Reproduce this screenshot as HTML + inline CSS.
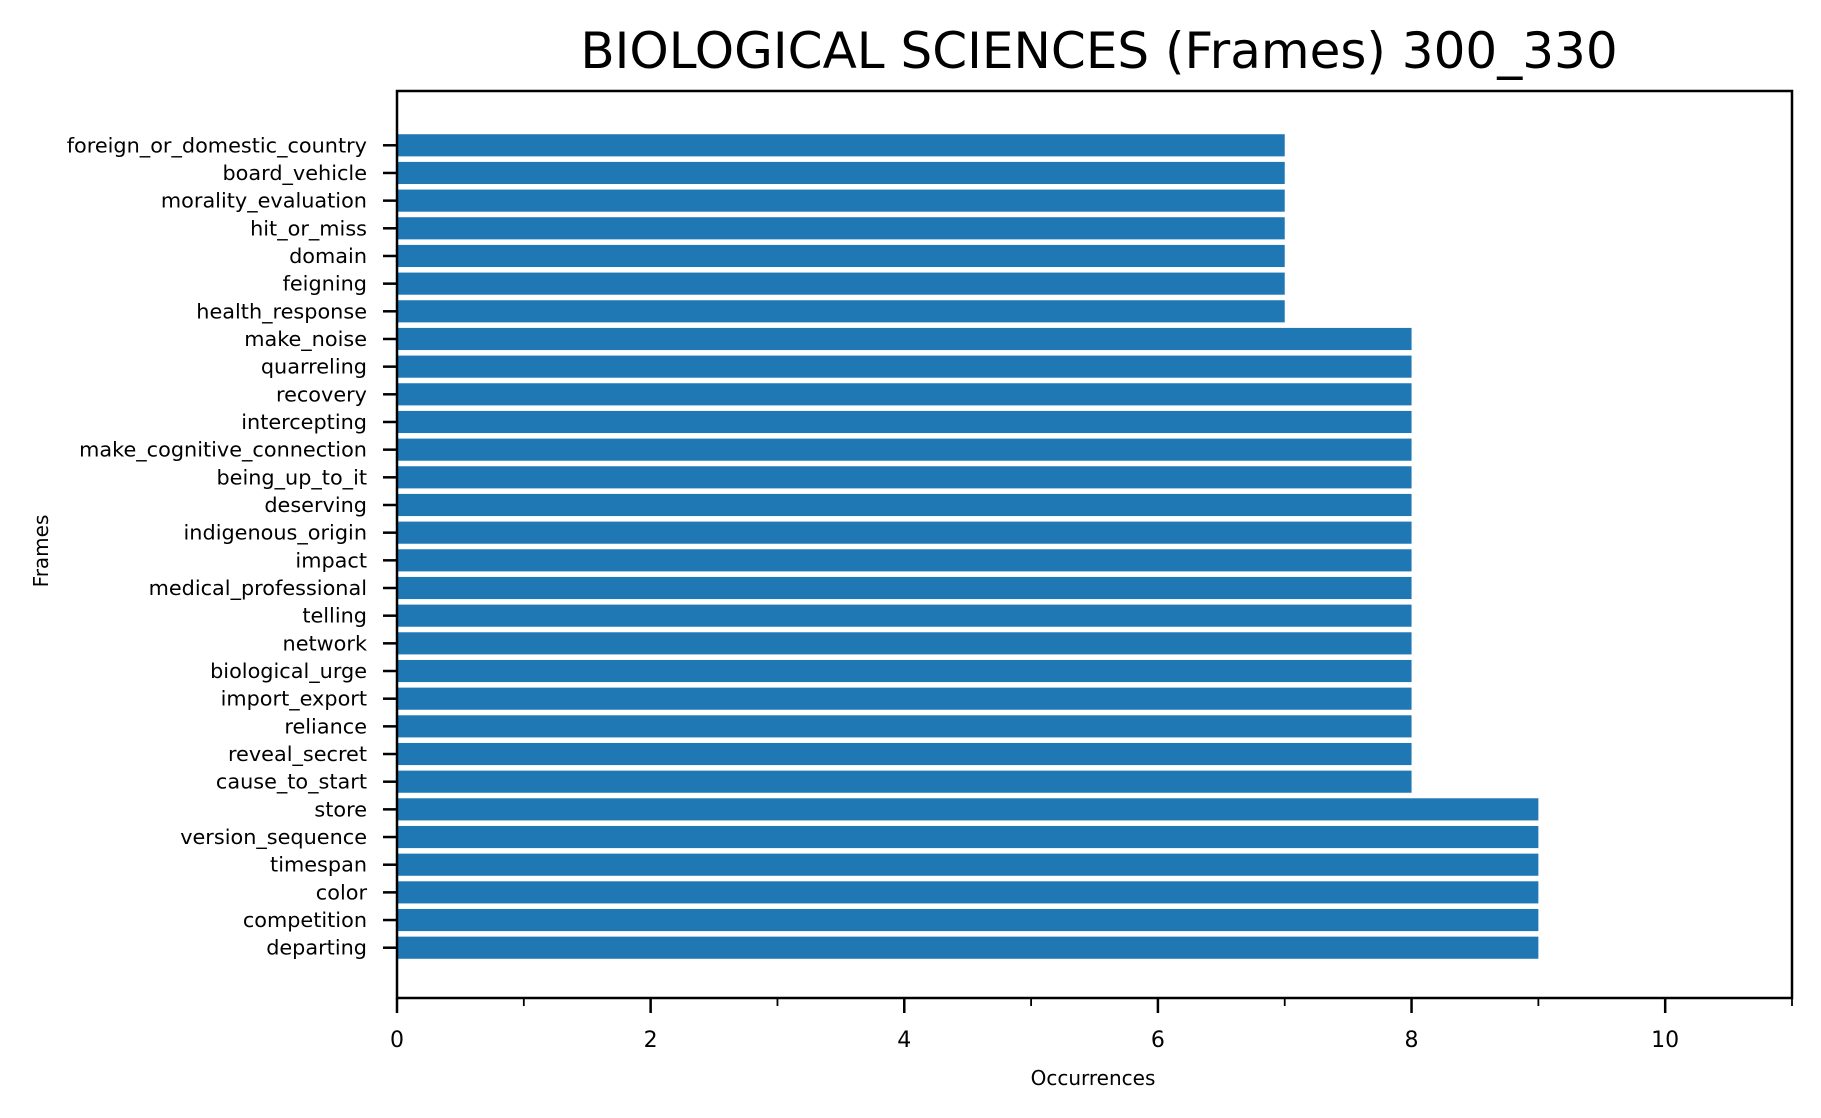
<!DOCTYPE html>
<html><head><meta charset="utf-8"><style>
html,body{margin:0;padding:0;background:#fff;}
svg{display:block;font-family:"DejaVu Sans","Liberation Sans",sans-serif;}
</style></head><body>
<svg id="chart" width="1821" height="1118" viewBox="0 0 1821 1118" xmlns="http://www.w3.org/2000/svg">
<rect width="1821" height="1118" fill="#fff"/>
<text x="1099" y="68" font-size="50" text-anchor="middle">BIOLOGICAL SCIENCES (Frames) 300_330</text>
<g id="bars"></g>
<g id="yticks"></g>
<g id="xticks"></g>
<rect x="397" y="91" width="1395" height="907" fill="none" stroke="#000" stroke-width="2.5"/>
<text x="1093" y="1085" font-size="20" text-anchor="middle">Occurrences</text>
<text transform="translate(48,551) rotate(-90)" font-size="20" text-anchor="middle">Frames</text>
</svg>
<script>
const categories = ["departing","competition","color","timespan","version_sequence","store","cause_to_start","reveal_secret","reliance","import_export","biological_urge","network","telling","medical_professional","impact","indigenous_origin","deserving","being_up_to_it","make_cognitive_connection","intercepting","recovery","quarreling","make_noise","health_response","feigning","domain","hit_or_miss","morality_evaluation","board_vehicle","foreign_or_domestic_country"];
const values = [9,9,9,9,9,9,8,8,8,8,8,8,8,8,8,8,8,8,8,8,8,8,8,7,7,7,7,7,7,7];
const xTicks = [0,2,4,6,8,10];
const xMinor = [1,3,5,7,9,11];

const NS = "http://www.w3.org/2000/svg";
const L = 397, R = 1792, T = 91, B = 998;
const xMin = 0, xMax = 11;
const n = categories.length;
const yLo = -0.4 - 0.05*(n-1+0.8), yHi = n-1+0.4 + 0.05*(n-1+0.8);
function xs(v){ return L + (v - xMin)/(xMax - xMin)*(R - L); }
function ys(v){ return B - (v - yLo)/(yHi - yLo)*(B - T) + 2; }
function mk(tag, attrs, parent){ const e = document.createElementNS(NS, tag); for (const k in attrs) e.setAttribute(k, attrs[k]); parent.appendChild(e); return e; }

const gb = document.getElementById('bars');
const gy = document.getElementById('yticks');
const gx = document.getElementById('xticks');
categories.forEach((c, i) => {
  const y0 = ys(i + 0.4), y1 = ys(i - 0.4);
  const r = mk('rect', {x: xs(0), y: y0, width: xs(values[i]) - xs(0), height: y1 - y0, fill: '#1f77b4'}, gb);
  
  
  const yc = ys(i);
  const tk = mk('line', {x1: L - 14, x2: L, y1: yc, y2: yc, stroke: '#000', 'stroke-width': 2.5}, gy);
  
  
  const t = mk('text', {x: 367, y: yc + 7, 'font-size': 20.8, 'text-anchor': 'end'}, gy);
  t.textContent = c;
  
  
});
xTicks.forEach(v => {
  const x = xs(v);
  const tk = mk('line', {x1: x, x2: x, y1: B, y2: B + 15, stroke: '#000', 'stroke-width': 2.5}, gx);
  
  
  const t = mk('text', {x: x, y: 1047, 'font-size': 22, 'text-anchor': 'middle'}, gx);
  t.textContent = v;
  
  
});
xMinor.forEach(v => {
  const x = xs(v);
  const tk = mk('line', {x1: x, x2: x, y1: B, y2: B + 8, stroke: '#000', 'stroke-width': 1.8}, gx);
  
  
});
</script>
</body></html>
